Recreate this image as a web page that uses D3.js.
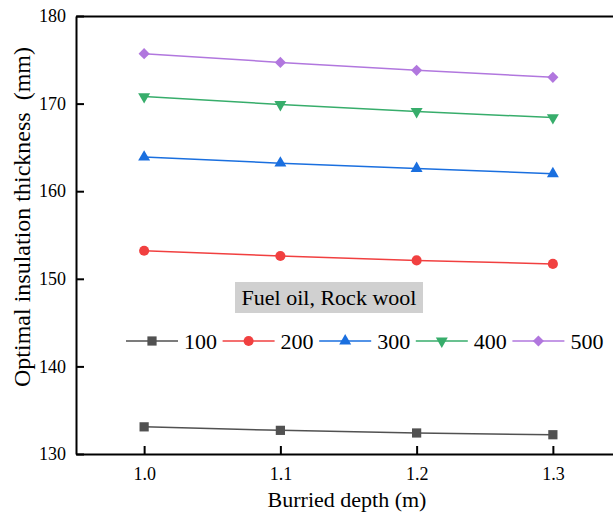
<!DOCTYPE html>
<html><head><meta charset="utf-8">
<script src="https://cdn.jsdelivr.net/npm/d3@7"></script>
<style>body{margin:0;background:#fff}svg{display:block}</style>
</head><body>
<script>
const depths = [1.0, 1.1, 1.2, 1.3];
const seriesNames = ["100", "200", "300", "400", "500"];
const s100 = [133.1, 132.7, 132.4, 132.2];
const s200 = [153.2, 152.6, 152.1, 151.7];
const s300 = [163.9, 163.2, 162.6, 162.0];
const s400 = [170.8, 169.9, 169.1, 168.4];
const s500 = [175.7, 174.7, 173.8, 173.0];
const xTicks = [1.0, 1.1, 1.2, 1.3];
const yTicks = [130, 140, 150, 160, 170, 180];
const colors = ["#515151", "#F14040", "#1A6FDF", "#37AD6B", "#B177DE"];
const symbols = ["square", "circle", "triangle", "down", "diamond"];
const legendTitle = "Fuel oil, Rock wool";

const seriesValues = [s100, s200, s300, s400, s500];
const W = 613, H = 520;
const font = "'Liberation Serif','Times New Roman',serif";
const svg = d3.select("body").append("svg").attr("width", W).attr("height", H);

const x = d3.scaleLinear().domain([0.95, 1.35]).range([76, 621]);
const y = d3.scaleLinear().domain([130, 180]).range([454, 16]);

function sym(type) {
  if (type === "square") return {p: d3.symbol(d3.symbolSquare, 85)(), r: 0};
  if (type === "circle") return {p: d3.symbol(d3.symbolCircle, 80)(), r: 0};
  if (type === "triangle") return {p: d3.symbol(d3.symbolTriangle, 62)(), r: 0};
  if (type === "down") return {p: d3.symbol(d3.symbolTriangle, 62)(), r: 180};
  return {p: d3.symbol(d3.symbolSquare, 62)(), r: 45};
}

// axes
const gx = svg.append("g").attr("transform", `translate(0,${y(130)})`)
  .call(d3.axisBottom(x).tickValues(xTicks).tickFormat(d3.format(".1f")).tickSizeInner(-8).tickSizeOuter(0).tickPadding(13));
const gy = svg.append("g").attr("transform", `translate(${x(0.95)},0)`)
  .call(d3.axisLeft(y).tickValues(yTicks).tickSizeInner(-8).tickSizeOuter(0).tickPadding(10));
const gt = svg.append("g").attr("transform", `translate(0,${y(180)})`)
  .call(d3.axisTop(x).tickValues([]).tickSizeOuter(0));
const gr = svg.append("g").attr("transform", `translate(${x(1.35)},0)`)
  .call(d3.axisRight(y).tickValues([]).tickSizeOuter(0));
[gx, gy, gt, gr].forEach(g => {
  g.attr("font-family", font);
  g.select(".domain").attr("stroke", "#000").attr("stroke-width", 2);
  g.selectAll(".tick line").attr("stroke", "#000").attr("stroke-width", 2);
  g.selectAll(".tick text").attr("font-family", font).attr("font-size", 18).attr("fill", "#000");
});

// axis titles
svg.append("text").attr("x", 347).attr("y", 507).attr("text-anchor", "middle")
  .attr("font-family", font).attr("font-size", 22).text("Burried depth (m)");
svg.append("text").attr("transform", "translate(30,217) rotate(-90)").attr("text-anchor", "middle")
  .attr("font-family", font).attr("font-size", 24).attr("xml:space", "preserve")
  .text("Optimal insulation thickness  (mm)");

// series
const line = d3.line().x((d, i) => x(depths[i])).y(d => y(d));
seriesValues.forEach((vals, k) => {
  svg.append("path").datum(vals).attr("d", line).attr("fill", "none")
    .attr("stroke", colors[k]).attr("stroke-width", 1.5);
  const s = sym(symbols[k]);
  svg.selectAll(null).data(vals).enter().append("path")
    .attr("d", s.p)
    .attr("transform", (d, i) => `translate(${x(depths[i])},${y(d)}) rotate(${s.r})`)
    .attr("fill", colors[k]);
});

// legend title box
const lt = svg.append("g");
lt.append("rect").attr("x", 235).attr("y", 282).attr("width", 188).attr("height", 31).attr("fill", "#d0d0d0");
lt.append("text").attr("x", 329).attr("y", 305).attr("text-anchor", "middle")
  .attr("font-family", font).attr("font-size", 22).text(legendTitle);

// legend items
const lg = svg.append("g");
seriesNames.forEach((name, k) => {
  const x0 = 126 + k * 96.6, ly = 341;
  lg.append("line").attr("x1", x0).attr("x2", x0 + 52).attr("y1", ly).attr("y2", ly)
    .attr("stroke", colors[k]).attr("stroke-width", 1.5);
  const s = sym(symbols[k]);
  lg.append("path").attr("d", s.p).attr("transform", `translate(${x0 + 26},${ly}) rotate(${s.r})`).attr("fill", colors[k]);
  lg.append("text").attr("x", x0 + 58).attr("y", ly + 8).attr("font-family", font).attr("font-size", 22).text(name);
});
</script>
</body></html>
